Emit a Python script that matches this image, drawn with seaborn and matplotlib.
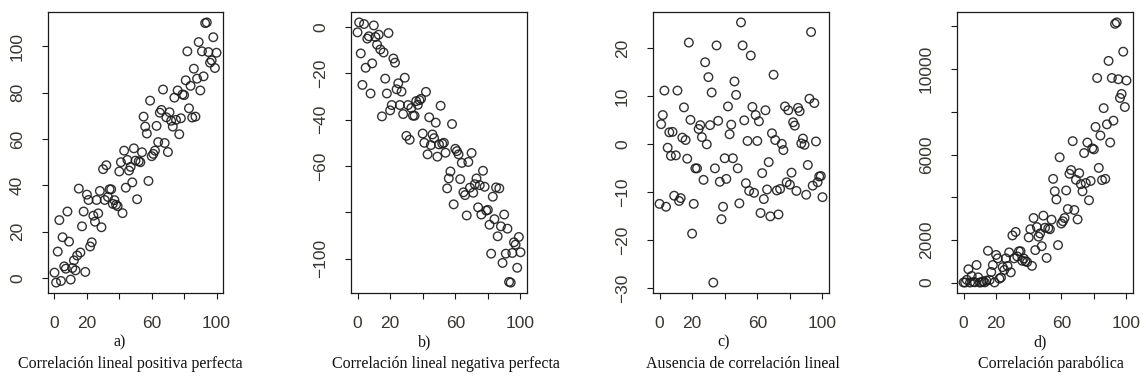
import numpy as np
import pandas as pd
import seaborn as sns
import matplotlib.pyplot as plt

# x grid shared by the four panels
x_vals = list(range(0, 101))

# a) positive linear correlation
y_pos = [2.3, -2, 11.4, 25, -1.3, 17.6, 5, 4, 28.7, 15.7,
         -0.7, 4.3, 7.6, 3.3, 9.7, 38.6, 11, 22.3, 28.7, 2.6,
         36, 33.7, 13.6, 15.4, 26.9, 24.3, 33.7, 27.9, 37.6, 21.9,
         47, 33.7, 48.7, 35, 38.3, 38.3, 32, 33.6, 31.6, 31,
         46, 50, 28, 55, 39, 51, 46.4, 48, 41.3, 56,
         50.7, 34, 50.4, 50, 54.3, 69.7, 65.4, 62.4, 41.9, 76.6,
         52.6, 53.6, 55, 65.7, 58.7, 71.4, 72.6, 81.4, 58.3, 69.4,
         54.4, 71.6, 67.9, 65.4, 77.9, 68.3, 81, 62.1, 69, 79.3,
         79, 85.4, 97.9, 73.3, 83, 69.3, 90.4, 69.7, 86.1, 101.9,
         81, 97.9, 87.1, 110.1, 110.4, 97.6, 93, 94, 104, 90.7, 97.3]

# b) negative linear correlation
y_neg = [-2.3, 2, -11.4, -25, 1.3, -17.6, -5, -4, -28.7, -15.7,
         0.7, -4.3, -7.6, -3.3, -9.7, -38.6, -11, -22.3, -28.7, -2.6,
         -36, -33.7, -13.6, -15.4, -26.9, -24.3, -33.7, -27.9, -37.6, -21.9,
         -47, -33.7, -48.7, -35, -38.3, -38.3, -32, -33.6, -31.6, -31,
         -46, -50, -28, -55, -39, -51, -46.4, -48, -41.3, -56,
         -50.7, -34, -50.4, -50, -54.3, -69.7, -65.4, -62.4, -41.9, -76.6,
         -52.6, -53.6, -55, -65.7, -58.7, -71.4, -72.6, -81.4, -58.3, -69.4,
         -54.4, -71.6, -67.9, -65.4, -77.9, -68.3, -81, -62.1, -69, -79.3,
         -79, -85.4, -97.9, -73.3, -83, -69.3, -90.4, -69.7, -86.1, -101.9,
         -81, -97.9, -87.1, -110.1, -110.4, -97.6, -93, -94, -104, -90.7, -97.3]

# c) no linear correlation
y_none = [-12.4, 4.2, 6.1, 11.2, -13, -0.7, 2.5, -2.4, 2.6, -10.7,
          -2.3, 11.2, -11.8, -11.2, 1.4, 7.7, 0.9, -3, 21.2, 5.1,
          -18.6, -12.4, -5, -5, 3.2, 4, 1.5, -7.4, 17.1, 0,
          14, 4, 10.8, -28.8, -5, 20.6, 4.9, -7.8, -15.6, -13,
          -2.9, -7.2, 7.9, 2.1, 4.1, -2.9, 13.1, 10.3, -5, -12.3,
          25.4, 20.6, 5, -8.1, 0.7, -9.7, 18.5, 7.8, -10.1, 6.1,
          0.7, 4.8, -14.3, -6, -11.4, 7.1, -9.4, -3.7, -15, 2.3,
          14.5, 0.9, -9.6, -14.6, -9.3, 0.1, -1.2, 7.9, -7.9, 7.1,
          -8.4, -5.9, 4.6, 3.9, -9.7, 7.6, 6.9, 0.2, 1.2, -0.1,
          -10.5, -4.3, 9.5, 23.4, -8.6, 8.6, 0.6, -7.9, -6.7, -6.6, -11]

# d) parabolic correlation
y_par = [5, 4, 130, 625, 2, 310, 25, 16, 824, 246,
         0, 18, 58, 11, 94, 1490, 121, 497, 824, 7,
         1296, 1136, 185, 237, 724, 590, 1136, 778, 1414, 480,
         2209, 1136, 2372, 1225, 1467, 1467, 1024, 1129, 999, 961,
         2116, 2500, 784, 3025, 1521, 2601, 2153, 2304, 1706, 3136,
         2570, 1156, 2540, 2500, 2948, 4858, 4277, 3894, 1756, 5868,
         2767, 2873, 3025, 4316, 3446, 5098, 5271, 6626, 3399, 4816,
         2959, 5127, 4610, 4277, 6068, 4665, 6561, 3856, 4761, 6288,
         6241, 7293, 9584, 5373, 6889, 4802, 8172, 4858, 7413, 10384,
         6561, 9584, 7586, 12122, 12188, 9526, 8649, 8836, 10816, 8226, 9467]

x_ticks = [0, 20, 40, 60, 80, 100]
x_ticklabels = ['0', '20', '', '60', '', '100']

y_ticks_pos = [0, 20, 40, 60, 80, 100]
y_labels_pos = ['0', '20', '40', '60', '80', '100']
y_ticks_neg = [0, -20, -40, -60, -80, -100]
y_labels_neg = ['0', '\u221220', '\u221240', '\u221260', '', '\u2212100']
y_ticks_none = [-30, -20, -10, 0, 10, 20]
y_labels_none = ['\u221230', '\u221220', '\u221210', '0', '10', '20']
y_ticks_par = [0, 2000, 4000, 6000, 8000, 10000, 12000]
y_labels_par = ['0', '2000', '', '6000', '', '10000', '']

letters = ['a)', 'b)', 'c)', 'd)']
captions = ['Correlación lineal positiva perfecta',
            'Correlación lineal negativa perfecta',
            'Ausencia de correlación lineal',
            'Correlación parabólica']

panels = [
    (y_pos, y_ticks_pos, y_labels_pos),
    (y_neg, y_ticks_neg, y_labels_neg),
    (y_none, y_ticks_none, y_labels_none),
    (y_par, y_ticks_par, y_labels_par),
]

W, H = 1147, 384
boxes = [(48, 223), (351, 527), (653, 829), (957, 1133)]
letter_x = [120, 425, 724, 1040]
caption_x = [130, 446, 743, 1051]
tick_col = '#3a3632'

fig = plt.figure(figsize=(W / 100, H / 100), dpi=100)

for i, (ys, yt, ytl) in enumerate(panels):
    left, right = boxes[i]
    ax = fig.add_axes([left / W, 1 - 293 / H, (right - left) / W, 281 / H])
    df = pd.DataFrame({'x': x_vals, 'y': ys})
    sns.scatterplot(data=df, x='x', y='y', ax=ax, marker='o', s=38,
                    facecolor='none', edgecolor='#1c1c1c', linewidth=1.0,
                    alpha=0.9)
    ax.margins(0.04)
    ax.autoscale_view()
    ax.set_xticks(x_ticks)
    ax.set_xticklabels(x_ticklabels)
    ax.set_yticks(yt)
    ax.set_yticklabels(ytl, rotation=90, va='center')
    ax.set_xlabel('')
    ax.set_ylabel('')
    for sp in ax.spines.values():
        sp.set_linewidth(0.9)
        sp.set_color('#1a1a1a')
    ax.tick_params(direction='out', length=4.5, width=0.8, color='#1a1a1a',
                   labelcolor=tick_col, labelsize=12.5)
    ax.tick_params(axis='x', pad=12)
    ax.tick_params(axis='y', pad=12)
    for lab in ax.get_xticklabels() + ax.get_yticklabels():
        lab.set_family('Liberation Sans')

    fig.text(letter_x[i] / W, 1 - 342 / H, letters[i], ha='center', va='center',
             family='Liberation Serif', fontsize=11.5, color='#111111')
    fig.text(caption_x[i] / W, 1 - 364 / H, captions[i], ha='center', va='center',
             family='Liberation Serif', fontsize=11.5, color='#111111')

fig.savefig('out.png', dpi=100)
